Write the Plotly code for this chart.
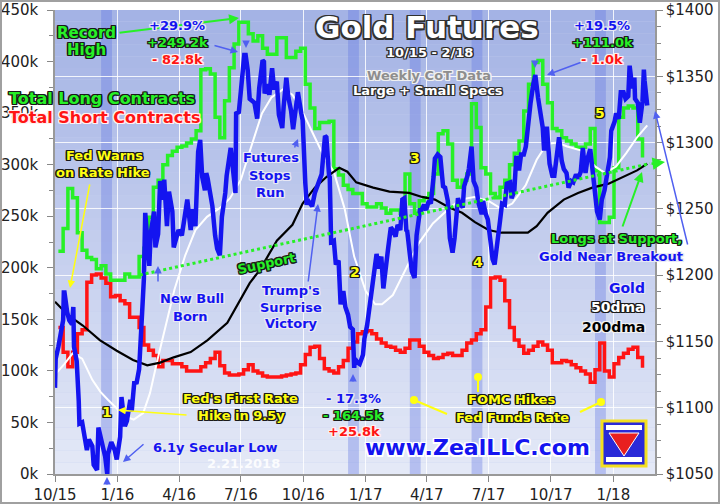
import plotly.graph_objects as go
import pandas as pd

# ---------------- DATA ----------------
cot_first_week = "2015-10-06"   # weekly CoT report Tuesdays
longs_k = [216, 238, 277, 268, 234, 217, 210, 208, 199, 202,
           194, 188, 188, 188, 194, 191, 191, 211, 219, 249,
           278, 285, 300, 309, 313, 317, 318, 321, 325, 333,
           392, 393, 388, 346, 326, 362, 394, 417, 438, 438,
           427, 420, 425, 413, 407, 407, 423, 423, 404, 404,
           410, 413, 378, 355, 335, 341, 341, 342, 296, 290,
           280, 276, 272, 272, 262, 259, 259, 262, 258, 253,
           256, 256, 253, 291, 262, 253, 265, 268, 272, 291,
           330, 333, 320, 285, 278, 285, 291, 359, 336, 297,
           291, 272, 268, 278, 285, 300, 311, 323, 352, 378,
           399, 401, 378, 360, 335, 333, 326, 323, 320, 317,
           317, 320, 335, 294, 244, 244, 249, 297, 346, 355,
           357, 355, 325, 307]
shorts_k = [142, 118, 104, 118, 136, 140, 186, 193, 194, 190,
            185, 172, 173, 168, 165, 152, 152, 142, 125, 120,
            115, 104, 110, 110, 107, 107, 104, 100, 100, 100,
            104, 108, 112, 118, 105, 98, 96, 96, 97, 101,
            106, 100, 98, 95, 94, 94, 94, 95, 96, 97,
            98, 106, 116, 123, 124, 112, 102, 100, 98, 104,
            110, 122, 128, 136, 138, 139, 136, 131, 127, 124,
            123, 120, 118, 122, 130, 130, 124, 118, 115, 112,
            113, 116, 117, 115, 115, 120, 127, 130, 136, 140,
            162, 190, 191, 188, 168, 142, 130, 124, 117, 120,
            124, 128, 125, 120, 108, 108, 110, 109, 106, 103,
            100, 97, 89, 101, 127, 100, 94, 107, 113, 117,
            121, 123, 113, 103]

gold_dates = [
    "2015-10-01", "2015-10-02", "2015-10-06", "2015-10-09", "2015-10-13", "2015-10-14", "2015-10-15",
    "2015-10-19", "2015-10-22", "2015-10-26", "2015-10-28", "2015-10-29", "2015-11-02", "2015-11-05",
    "2015-11-06", "2015-11-10", "2015-11-13", "2015-11-17", "2015-11-20", "2015-11-25", "2015-11-27",
    "2015-12-02", "2015-12-04", "2015-12-08", "2015-12-10", "2015-12-14", "2015-12-17", "2015-12-18",
    "2015-12-23", "2015-12-28", "2015-12-31",
    "2016-01-05", "2016-01-07", "2016-01-12", "2016-01-15", "2016-01-20", "2016-01-22", "2016-01-26",
    "2016-01-29", "2016-02-02", "2016-02-05", "2016-02-09", "2016-02-11", "2016-02-12", "2016-02-17",
    "2016-02-19", "2016-02-24", "2016-02-26", "2016-03-01", "2016-03-04", "2016-03-09", "2016-03-10",
    "2016-03-14", "2016-03-17", "2016-03-22", "2016-03-24", "2016-03-31", "2016-04-05", "2016-04-08",
    "2016-04-13", "2016-04-18", "2016-04-21", "2016-04-25", "2016-04-29", "2016-05-02", "2016-05-05",
    "2016-05-09", "2016-05-11", "2016-05-13", "2016-05-18", "2016-05-20", "2016-05-24", "2016-05-27",
    "2016-05-31", "2016-06-03", "2016-06-08", "2016-06-10", "2016-06-16", "2016-06-20", "2016-06-23",
    "2016-06-24", "2016-06-28", "2016-07-01", "2016-07-06", "2016-07-08", "2016-07-11", "2016-07-14",
    "2016-07-18", "2016-07-21", "2016-07-25", "2016-07-28", "2016-08-02", "2016-08-04", "2016-08-05",
    "2016-08-09", "2016-08-12", "2016-08-16", "2016-08-19", "2016-08-23", "2016-08-26", "2016-08-31",
    "2016-09-02", "2016-09-06", "2016-09-09", "2016-09-13", "2016-09-16", "2016-09-21", "2016-09-23",
    "2016-09-28", "2016-09-30", "2016-10-04", "2016-10-06", "2016-10-07", "2016-10-11", "2016-10-14",
    "2016-10-18", "2016-10-21", "2016-10-25", "2016-10-28", "2016-11-02", "2016-11-04", "2016-11-08",
    "2016-11-09", "2016-11-11", "2016-11-15", "2016-11-18", "2016-11-22", "2016-11-25", "2016-11-29",
    "2016-12-02", "2016-12-06", "2016-12-09", "2016-12-13", "2016-12-15", "2016-12-16", "2016-12-20",
    "2016-12-23", "2016-12-28", "2016-12-30",
    "2017-01-03", "2017-01-06", "2017-01-10", "2017-01-13", "2017-01-17", "2017-01-20", "2017-01-24",
    "2017-01-27", "2017-01-31", "2017-02-03", "2017-02-07", "2017-02-10", "2017-02-14", "2017-02-17",
    "2017-02-21", "2017-02-24", "2017-02-27", "2017-03-02", "2017-03-03", "2017-03-07", "2017-03-10",
    "2017-03-14", "2017-03-16", "2017-03-17", "2017-03-22", "2017-03-24", "2017-03-28", "2017-03-31",
    "2017-04-04", "2017-04-07", "2017-04-11", "2017-04-13", "2017-04-17", "2017-04-21", "2017-04-25",
    "2017-04-28", "2017-05-02", "2017-05-05", "2017-05-09", "2017-05-12", "2017-05-17", "2017-05-19",
    "2017-05-24", "2017-05-26", "2017-05-31", "2017-06-02", "2017-06-06", "2017-06-09", "2017-06-13",
    "2017-06-16", "2017-06-21", "2017-06-23", "2017-06-27", "2017-06-30", "2017-07-05", "2017-07-07",
    "2017-07-10", "2017-07-14", "2017-07-18", "2017-07-21", "2017-07-25", "2017-07-28", "2017-08-02",
    "2017-08-04", "2017-08-08", "2017-08-11", "2017-08-15", "2017-08-18", "2017-08-22", "2017-08-25",
    "2017-08-29", "2017-09-01", "2017-09-05", "2017-09-08", "2017-09-12", "2017-09-15", "2017-09-19",
    "2017-09-21", "2017-09-25", "2017-09-29", "2017-10-03", "2017-10-06", "2017-10-10", "2017-10-13",
    "2017-10-17", "2017-10-20", "2017-10-24", "2017-10-27", "2017-10-31", "2017-11-03", "2017-11-07",
    "2017-11-10", "2017-11-14", "2017-11-17", "2017-11-21", "2017-11-24", "2017-11-28", "2017-12-01",
    "2017-12-05", "2017-12-08", "2017-12-12", "2017-12-15", "2017-12-19", "2017-12-22", "2017-12-27",
    "2017-12-29",
    "2018-01-03", "2018-01-05", "2018-01-09", "2018-01-12", "2018-01-16", "2018-01-19", "2018-01-23",
    "2018-01-25", "2018-01-29", "2018-02-01", "2018-02-02", "2018-02-06", "2018-02-08", "2018-02-09",
    "2018-02-13", "2018-02-15", "2018-02-16", "2018-02-20"]
gold_prices = [
    1115, 1137, 1146, 1156, 1166, 1187, 1187,
    1172, 1166, 1163, 1176, 1146, 1135, 1105,
    1088, 1089, 1081, 1068, 1076, 1071, 1057,
    1053, 1085, 1075, 1072, 1063, 1050, 1065,
    1074, 1068, 1061,
    1078, 1108, 1086, 1090, 1106, 1097, 1120,
    1118, 1129, 1158, 1197, 1247, 1239, 1207,
    1231, 1248, 1221, 1231, 1271, 1257, 1272,
    1237, 1263, 1248, 1221, 1234, 1230, 1240,
    1257, 1234, 1250, 1237, 1293, 1302, 1274,
    1264, 1277, 1273, 1258, 1252, 1230, 1220,
    1215, 1244, 1262, 1275, 1296, 1280, 1262,
    1322, 1323, 1339, 1366, 1366, 1355, 1333,
    1331, 1330, 1318, 1341, 1362, 1361, 1337,
    1344, 1336, 1356, 1340, 1346, 1321, 1311,
    1327, 1349, 1334, 1324, 1310, 1336, 1338,
    1322, 1317, 1269, 1253, 1257, 1254, 1252,
    1262, 1267, 1273, 1276, 1305, 1304, 1275,
    1274, 1225, 1226, 1208, 1211, 1178, 1188,
    1176, 1170, 1161, 1159, 1130, 1137, 1134,
    1133, 1140, 1152,
    1162, 1173, 1185, 1196, 1216, 1205, 1214,
    1190, 1212, 1220, 1236, 1234, 1229, 1238,
    1234, 1257, 1258, 1233, 1234, 1216, 1203,
    1198, 1227, 1230, 1249, 1249, 1253, 1249,
    1256, 1254, 1274, 1288, 1291, 1289, 1267,
    1266, 1256, 1228, 1217, 1228, 1258, 1255,
    1251, 1267, 1275, 1280, 1297, 1271, 1266,
    1255, 1246, 1256, 1246, 1242, 1221, 1212,
    1208, 1228, 1241, 1254, 1253, 1269, 1270,
    1258, 1263, 1290, 1279, 1291, 1291, 1297,
    1318, 1330, 1344, 1351, 1334, 1324, 1311,
    1294, 1312, 1284, 1275, 1275, 1294, 1304,
    1286, 1280, 1277, 1266, 1271, 1270, 1276,
    1273, 1278, 1296, 1277, 1288, 1295, 1280,
    1266, 1248, 1242, 1257, 1264, 1275, 1289,
    1309,
    1316, 1322, 1318, 1338, 1338, 1333, 1335,
    1358, 1341, 1349, 1333, 1330, 1318, 1315,
    1331, 1355, 1347, 1328]

dma50_dates = ["2015-10-01", "2015-10-15", "2015-10-27", "2015-11-10", "2015-11-25", "2015-12-07",
               "2015-12-18", "2016-01-01", "2016-01-15", "2016-01-25", "2016-02-08", "2016-02-18",
               "2016-02-29", "2016-03-10", "2016-03-25", "2016-04-10", "2016-04-25", "2016-05-12",
               "2016-06-01", "2016-06-15", "2016-07-01", "2016-07-15", "2016-08-01", "2016-08-15",
               "2016-09-01", "2016-09-15", "2016-10-01", "2016-10-15", "2016-11-01", "2016-11-15",
               "2016-12-01", "2016-12-15", "2017-01-01", "2017-01-15", "2017-01-25", "2017-02-10",
               "2017-03-01", "2017-03-20", "2017-04-10", "2017-05-01", "2017-05-20", "2017-06-10",
               "2017-07-01", "2017-07-20", "2017-08-05", "2017-08-25", "2017-09-10", "2017-09-25",
               "2017-10-10", "2017-10-25", "2017-11-15", "2017-12-05", "2017-12-20", "2018-01-05",
               "2018-01-20", "2018-02-05", "2018-02-20"]
dma50_vals = [1125, 1133, 1141, 1137, 1121, 1112,
              1106, 1099, 1093, 1091, 1096, 1111,
              1136, 1158, 1189, 1215, 1234, 1244,
              1251, 1258, 1272, 1295, 1322, 1334,
              1340, 1336, 1322, 1307, 1289, 1278,
              1250, 1214, 1188, 1178, 1178, 1185,
              1204, 1224, 1239, 1249, 1257, 1259,
              1256, 1250, 1254, 1268, 1287, 1299,
              1300, 1297, 1294, 1282, 1277, 1282,
              1292, 1304, 1313]

dma200_dates = ["2015-10-01", "2015-10-20", "2015-11-11", "2015-12-06", "2015-12-31", "2016-01-24",
                "2016-02-14", "2016-03-04", "2016-03-24", "2016-04-18", "2016-05-13", "2016-06-11",
                "2016-07-14", "2016-07-29", "2016-08-23", "2016-09-15", "2016-09-30", "2016-10-18",
                "2016-11-04", "2016-11-23", "2016-12-05", "2016-12-18", "2017-01-12", "2017-02-05",
                "2017-03-06", "2017-03-25", "2017-04-13", "2017-05-04", "2017-05-23", "2017-06-11",
                "2017-07-01", "2017-07-20", "2017-08-28", "2017-09-10", "2017-09-26", "2017-10-20",
                "2017-11-10", "2017-12-01", "2017-12-25", "2018-01-15", "2018-02-05", "2018-02-20"]
dma200_vals = [1180, 1170, 1162, 1151, 1143, 1136,
               1132, 1134, 1138, 1142, 1151, 1164,
               1194, 1204, 1226, 1238, 1254, 1266,
               1274, 1281, 1278, 1270, 1266, 1263,
               1262, 1259, 1257, 1251, 1247, 1240,
               1234, 1232, 1232, 1237, 1247, 1257,
               1262, 1266, 1269, 1274, 1279, 1284]

fomc_hike_dates = ["2015-12-16", "2016-12-14", "2017-03-15", "2017-06-14", "2017-12-13"]
support_start = ("2016-02-03", 193)
support_end = ("2018-02-24", 301)

x_tick_dates = ["2015-10-01", "2016-01-01", "2016-04-01", "2016-07-01", "2016-10-01",
                "2017-01-01", "2017-04-01", "2017-07-01", "2017-10-01", "2018-01-01"]
x_tick_labels = ["10/15", "1/16", "4/16", "7/16", "10/16", "1/17", "4/17", "7/17", "10/17", "1/18"]
left_tick_vals = [0, 50, 100, 150, 200, 250, 300, 350, 400, 450]
left_tick_labels = ["0k", "50k", "100k", "150k", "200k", "250k", "300k", "350k", "400k", "450k"]
right_tick_vals = [1050, 1100, 1150, 1200, 1250, 1300, 1350, 1400]
right_tick_labels = ["$1050", "$1100", "$1150", "$1200", "$1250", "$1300", "$1350", "$1400"]

# ---------------- STYLE / GEOMETRY ----------------
W, H = 720, 504
L, R, T, B = 55, 65, 10, 30
PW, PH = W - L - R, H - T - B
FONT = "DejaVu Sans"

GREEN = "#27f027"
RED = "#ff1414"
BLUE = "#1414f0"
YELLOW = "#ffff10"
ARROWBLUE = "#5060f0"


def P(x, y):
    return dict(x=(x - L) / PW, y=(H - B - y) / PH, xref="paper", yref="paper")


def halo(c, d=1.2):
    offs = [(-d, -d), (d, -d), (-d, d), (d, d), (0, d), (d, 0), (-d, 0), (0, -d)]
    return ", ".join(f"{dx}px {dy}px 0px {c}" for dx, dy in offs)


annotations = []


def label(text, x, y, size, color, hc=None, anchor="center", angle=0, d=1.2):
    f = dict(family=FONT, size=size, color=color)
    if hc:
        f["shadow"] = halo(hc, d)
    annotations.append(dict(text="<b>" + text + "</b>", showarrow=False, font=f,
                            xanchor=anchor, yanchor="middle", textangle=angle, **P(x, y)))


def arrow(xh, yh, xt, yt, color, width=2, head=2, size=1.0):
    annotations.append(dict(text="", showarrow=True, arrowhead=head, arrowsize=size,
                            arrowwidth=width, arrowcolor=color, ax=xt - xh, ay=yt - yh,
                            **P(xh, yh)))


cot_dates = pd.date_range(cot_first_week, periods=len(longs_k), freq="7D")

fig = go.Figure()
fig.add_trace(go.Scatter(x=cot_dates, y=shorts_k, mode="lines", line=dict(color=RED, width=3.5, shape="hv"),
                         yaxis="y", hoverinfo="skip"))
fig.add_trace(go.Scatter(x=cot_dates, y=longs_k, mode="lines", line=dict(color=GREEN, width=3.5, shape="hv"),
                         yaxis="y", hoverinfo="skip"))
fig.add_trace(go.Scatter(x=dma50_dates, y=dma50_vals, mode="lines", line=dict(color="white", width=2),
                         yaxis="y2", hoverinfo="skip"))
fig.add_trace(go.Scatter(x=dma200_dates, y=dma200_vals, mode="lines", line=dict(color="black", width=2.2),
                         yaxis="y2", hoverinfo="skip"))
fig.add_trace(go.Scatter(x=gold_dates, y=gold_prices, mode="lines", line=dict(color=BLUE, width=4.5),
                         yaxis="y2", hoverinfo="skip"))

shapes = []
# plot background gradient
top, bot = (164, 179, 229), (228, 233, 247)
N = 40
for i in range(N):
    t = i / (N - 1)
    c = tuple(int(top[k] + (bot[k] - top[k]) * t) for k in range(3))
    shapes.append(dict(type="rect", xref="paper", yref="paper", x0=0, x1=1,
                       y0=1 - (i + 1) / N, y1=1 - i / N, fillcolor="rgb(%d,%d,%d)" % c,
                       line=dict(width=0), layer="below"))
# FOMC hike bands
for d in fomc_hike_dates:
    dd = pd.Timestamp(d)
    shapes.append(dict(type="rect", xref="x", yref="paper", x0=dd - pd.Timedelta(days=8),
                       x1=dd + pd.Timedelta(days=8), y0=0, y1=1,
                       fillcolor="rgba(95,115,225,0.35)", line=dict(width=0), layer="below"))
# support dotted line
shapes.append(dict(type="line", xref="x", yref="y", x0=support_start[0], y0=support_start[1],
                   x1=support_end[0], y1=support_end[1], line=dict(color=GREEN, width=3, dash="dot"),
                   layer="above"))
# outer border
shapes.append(dict(type="rect", xref="paper", yref="paper", x0=-(L - 1) / PW, x1=1 + (R - 1) / PW,
                   y0=-(B - 1) / PH, y1=1 + (T - 1) / PH, line=dict(color="#a0a0a0", width=2),
                   fillcolor="rgba(0,0,0,0)", layer="above"))


def rect_px(x0, y0, x1, y1, **kw):
    a, b = P(x0, y0), P(x1, y1)
    shapes.append(dict(type="rect", xref="paper", yref="paper", x0=a["x"], x1=b["x"],
                       y0=b["y"], y1=a["y"], **kw))


def line_px(x0, y0, x1, y1, color, width):
    a, b = P(x0, y0), P(x1, y1)
    shapes.append(dict(type="line", xref="paper", yref="paper", x0=a["x"], y0=a["y"],
                       x1=b["x"], y1=b["y"], line=dict(color=color, width=width)))


def dot_px(x, y, r, color):
    a, b = P(x - r, y - r), P(x + r, y + r)
    shapes.append(dict(type="circle", xref="paper", yref="paper", x0=a["x"], x1=b["x"],
                       y0=b["y"], y1=a["y"], fillcolor=color, line=dict(width=0)))


# logo
rect_px(602, 421, 646, 466, fillcolor="#2a2ad8", line=dict(color="#f4e020", width=3))
rect_px(606, 425, 642, 430, fillcolor="white", line=dict(width=0))
rect_px(606, 457, 642, 462, fillcolor="white", line=dict(width=0))
a, b, c = P(624, 456), P(609, 433), P(639, 433)
shapes.append(dict(type="path", xref="paper", yref="paper",
                   path=f"M {a['x']} {a['y']} L {b['x']} {b['y']} L {c['x']} {c['y']} Z",
                   fillcolor="#e82020", line=dict(color="white", width=1)))

# FOMC yellow connectors
line_px(478, 377, 478, 392, YELLOW, 2)
dot_px(478, 377, 4, YELLOW)
line_px(414, 400, 447, 414, YELLOW, 2)
dot_px(414, 400, 4, YELLOW)
line_px(601, 402, 580, 412, YELLOW, 2)
dot_px(601, 402, 4, YELLOW)

# ---------------- ARROWS (drawn first, texts on top) ----------------
arrow(239, 18, 118, 33, GREEN, 2)
arrow(238, 52, 213, 45, ARROWBLUE, 1.5)
arrow(547, 75, 582, 62, ARROWBLUE, 1.5)
arrow(70, 288, 90, 183, YELLOW, 1.5)
arrow(298, 139, 294, 149, ARROWBLUE, 1.5)
arrow(158, 266, 158, 283, ARROWBLUE, 1.5)
arrow(318, 204, 308, 283, ARROWBLUE, 1.5)
arrow(118, 410, 188, 415, YELLOW, 1.5)
arrow(123, 462, 145, 443, ARROWBLUE, 1.5)
arrow(642, 172, 622, 228, GREEN, 2)
arrow(655, 111, 688, 246, ARROWBLUE, 1.5)
arrow(665, 162, 650, 164, GREEN, 2.5)
# small pointers at extremes
arrow(246, 48, 246, 40, ARROWBLUE, 1.5)
arrow(535, 68, 535, 60, ARROWBLUE, 1.5)
arrow(107, 477, 107, 486, ARROWBLUE, 1.5)
arrow(353, 374, 353, 383, ARROWBLUE, 1.5)

# ---------------- TEXT ----------------
DARK = "#1a1a1a"
LIGHT = "#e8e8f4"
label("Gold Futures", 427, 27, 31, "white", "#303030", d=1.5)
label("10/15 - 2/18", 429, 53, 13, "white", "#303030")
label("Weekly CoT Data", 429, 75, 13, "#8e8e8e", "#f0f0f0")
label("Large + Small Specs", 428, 91, 13, "white", "#303030")

label("Record", 86, 33, 15, GREEN, DARK)
label("High", 86, 50, 15, GREEN, DARK)
label("+29.9%", 177, 25, 13, BLUE, LIGHT)
label("+249.2k", 177, 42, 13, GREEN, DARK)
label("- 82.8k", 177, 60, 13, RED, "#fff0f0")
label("Total Long Contracts", 102, 98, 16, GREEN, DARK)
label("Total Short Contracts", 104, 117, 16, RED, "#fff0f0")
label("Fed Warns", 104, 155, 13, YELLOW, DARK)
label("on Rate Hike", 103, 172, 13, YELLOW, DARK)
label("Futures", 271, 157, 13, BLUE, LIGHT)
label("Stops", 270, 175, 13, BLUE, LIGHT)
label("Run", 270, 192, 13, BLUE, LIGHT)
label("New Bull", 192, 298, 13, BLUE, LIGHT)
label("Born", 190, 316, 13, BLUE, LIGHT)
label("Trump's", 291, 290, 13, BLUE, LIGHT)
label("Surprise", 291, 307, 13, BLUE, LIGHT)
label("Victory", 291, 323, 13, BLUE, LIGHT)
label("Support", 266, 263, 13, GREEN, DARK, angle=-12)
label("1", 107, 412, 14, YELLOW, DARK)
label("2", 355, 272, 14, YELLOW, DARK)
label("3", 415, 158, 14, YELLOW, DARK)
label("4", 478, 262, 14, YELLOW, DARK)
label("5", 600, 113, 14, YELLOW, DARK)
label("+19.5%", 602, 25, 13, BLUE, LIGHT)
label("+111.0k", 602, 42, 13, GREEN, DARK)
label("- 1.0k", 602, 60, 13, RED, "#fff0f0")
label("Longs at Support,", 616, 238, 13, GREEN, DARK)
label("Gold Near Breakout", 611, 256, 13, BLUE, LIGHT)
label("Gold", 647, 288, 14, BLUE, LIGHT, anchor="right")
label("50dma", 647, 307, 14, "white", DARK, anchor="right")
label("200dma", 647, 327, 14, "black", "#f0f0f0", anchor="right")
label("Fed's First Rate", 240, 398, 13, YELLOW, DARK)
label("Hike in 9.5y", 241, 415, 13, YELLOW, DARK)
label("6.1y Secular Low", 215, 447, 13, BLUE, LIGHT)
annotations.append(dict(text="<b>2.21.2018</b>", showarrow=False,
                        font=dict(family=FONT, size=13, color="rgba(255,255,255,0.9)"),
                        xanchor="center", yanchor="middle", **P(243, 463)))
label("- 17.3%", 353, 398, 13, BLUE, LIGHT)
label("- 164.5k", 353, 415, 13, GREEN, DARK)
label("+25.8k", 354, 431, 13, RED, "#fff0f0")
label("www.ZealLLC.com", 477, 447, 22, BLUE, "#ffffff", d=1.5)
label("FOMC Hikes", 511, 400, 13, YELLOW, DARK)
label("Fed Funds Rate", 512, 417, 13, YELLOW, DARK)

tickfont = dict(family=FONT, size=15, color="#222222")
fig.update_layout(
    width=W, height=H, margin=dict(l=L, r=R, t=T, b=B, autoexpand=False),
    paper_bgcolor="white", plot_bgcolor="#c4cdee", showlegend=False,
    shapes=shapes, annotations=annotations,
    xaxis=dict(type="date", range=["2015-10-01", "2018-03-03 10:00"], tickvals=x_tick_dates,
               ticktext=x_tick_labels, tickfont=tickfont, ticks="outside", ticklen=6,
               tickcolor="#888888", showgrid=True, gridcolor="rgba(255,255,255,0.85)", gridwidth=1,
               showline=True, linecolor="#999999", linewidth=1.5, zeroline=False, automargin=False),
    yaxis=dict(range=[0, 450], tickvals=left_tick_vals, ticktext=left_tick_labels, tickfont=tickfont,
               ticks="outside", ticklen=6, tickcolor="#888888", showgrid=False, showline=True,
               linecolor="#999999", linewidth=1.5, zeroline=False, automargin=False,
               ticklabelstandoff=6,
               minor=dict(dtick=25, ticks="outside", ticklen=4, tickcolor="#888888", showgrid=False)),
    yaxis2=dict(range=[1050, 1400], overlaying="y", side="right", tickvals=right_tick_vals,
                ticktext=right_tick_labels, tickfont=tickfont, ticks="outside", ticklen=6,
                tickcolor="#888888", showgrid=True, gridcolor="rgba(255,255,255,0.85)", gridwidth=1,
                showline=True, linecolor="#999999", linewidth=1.5, zeroline=False, automargin=False,
                minor=dict(dtick=12.5, ticks="outside", ticklen=4, tickcolor="#888888", showgrid=False)),
)

fig.write_html("out.html", config={"displayModeBar": False},
               post_script="document.body.style.margin='0px';document.body.style.overflow='hidden';")
